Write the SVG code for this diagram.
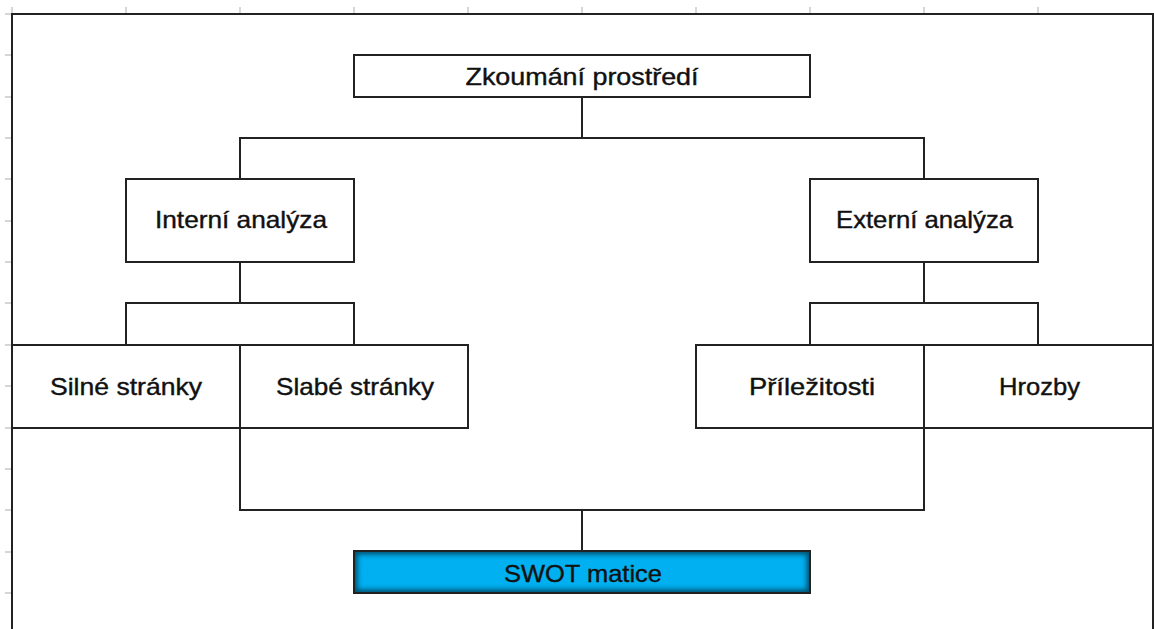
<svg xmlns="http://www.w3.org/2000/svg" width="1154" height="629" viewBox="0 0 1154 629">
<style>
.box{fill:#fff;stroke:#222;stroke-width:2}
.ln{fill:none;stroke:#222;stroke-width:2}
.tk{stroke:#c8c8c8;stroke-width:1.5}
.t{font-family:"Liberation Sans",Arial,sans-serif;font-size:24px;fill:#111;stroke:#111;stroke-width:0.4;text-anchor:middle}
</style>
<defs>
<clipPath id="swotClip"><rect x="354" y="551" width="456" height="42"/></clipPath>
<filter id="blur" x="-10%" y="-50%" width="120%" height="200%"><feGaussianBlur stdDeviation="2.5"/></filter>
</defs>
<rect width="1154" height="629" fill="#fff"/>
<g id="sheet">
<g id="ticks">
<line class="tk" x1="12" y1="7" x2="12" y2="14"/>
<line class="tk" x1="126" y1="7" x2="126" y2="14"/>
<line class="tk" x1="240" y1="7" x2="240" y2="14"/>
<line class="tk" x1="354" y1="7" x2="354" y2="14"/>
<line class="tk" x1="468" y1="7" x2="468" y2="14"/>
<line class="tk" x1="582" y1="7" x2="582" y2="14"/>
<line class="tk" x1="696" y1="7" x2="696" y2="14"/>
<line class="tk" x1="810" y1="7" x2="810" y2="14"/>
<line class="tk" x1="924" y1="7" x2="924" y2="14"/>
<line class="tk" x1="1038" y1="7" x2="1038" y2="14"/>
<line class="tk" x1="5" y1="14" x2="12" y2="14"/>
<line class="tk" x1="5" y1="55" x2="12" y2="55"/>
<line class="tk" x1="5" y1="97" x2="12" y2="97"/>
<line class="tk" x1="5" y1="138" x2="12" y2="138"/>
<line class="tk" x1="5" y1="179" x2="12" y2="179"/>
<line class="tk" x1="5" y1="221" x2="12" y2="221"/>
<line class="tk" x1="5" y1="262" x2="12" y2="262"/>
<line class="tk" x1="5" y1="303" x2="12" y2="303"/>
<line class="tk" x1="5" y1="345" x2="12" y2="345"/>
<line class="tk" x1="5" y1="386" x2="12" y2="386"/>
<line class="tk" x1="5" y1="428" x2="12" y2="428"/>
<line class="tk" x1="5" y1="469" x2="12" y2="469"/>
<line class="tk" x1="5" y1="510" x2="12" y2="510"/>
<line class="tk" x1="5" y1="552" x2="12" y2="552"/>
<line class="tk" x1="5" y1="593" x2="12" y2="593"/>
</g>
<path class="ln" d="M12,629 V14 H1153 V629"/>
</g>
<g id="connectors">
<path class="ln" d="M582,97 V138 M240,179 V138 H924 V179"/>
<path class="ln" d="M240,262 V303 M126,345 V303 H354 V345"/>
<path class="ln" d="M924,262 V303 M810,345 V303 H1038 V345"/>
<path class="ln" d="M240,428 V510 H924 V428 M582,510 V551"/>
</g>
<g id="n-zkoumani">
<rect class="box" x="354" y="55" width="456" height="42"/>
<text class="t" x="582" y="85" textLength="233" lengthAdjust="spacingAndGlyphs">Zkoumání prostředí</text>
</g>
<g id="n-interni">
<rect class="box" x="126" y="179" width="228" height="83"/>
<text class="t" x="241" y="228" textLength="172" lengthAdjust="spacingAndGlyphs">Interní analýza</text>
</g>
<g id="n-externi">
<rect class="box" x="810" y="179" width="228" height="83"/>
<text class="t" x="924.5" y="228" textLength="177" lengthAdjust="spacingAndGlyphs">Externí analýza</text>
</g>
<g id="n-silne">
<rect class="box" x="12" y="345" width="228" height="83"/>
<text class="t" x="126" y="395" textLength="152" lengthAdjust="spacingAndGlyphs">Silné stránky</text>
</g>
<g id="n-slabe">
<rect class="box" x="240" y="345" width="228" height="83"/>
<text class="t" x="355" y="395" textLength="158" lengthAdjust="spacingAndGlyphs">Slabé stránky</text>
</g>
<g id="n-prilezitosti">
<rect class="box" x="696" y="345" width="228" height="83"/>
<text class="t" x="812" y="395" textLength="126" lengthAdjust="spacingAndGlyphs">Příležitosti</text>
</g>
<g id="n-hrozby">
<rect class="box" x="924" y="345" width="229" height="83"/>
<text class="t" x="1039.5" y="395" textLength="81" lengthAdjust="spacingAndGlyphs">Hrozby</text>
</g>
<g id="n-swot">
<rect x="354" y="551" width="456" height="42" fill="#00b0f0"/>
<g clip-path="url(#swotClip)">
<rect x="354" y="551" width="456" height="42" fill="none" stroke="#004f70" stroke-width="7" filter="url(#blur)"/>
</g>
<rect x="354" y="551" width="456" height="42" fill="none" stroke="#222" stroke-width="2"/>
<text class="t" x="583" y="582" textLength="158" lengthAdjust="spacingAndGlyphs">SWOT matice</text>
</g>
</svg>
